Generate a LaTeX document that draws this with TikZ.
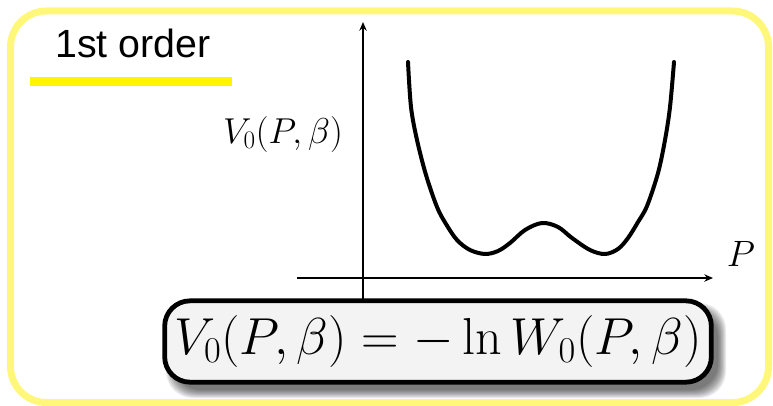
\RequirePackage{fix-cm}
\documentclass[tikz,border=0pt]{standalone}
\usepackage{fontspec}
\newfontfamily\helv{Liberation Sans}
\usetikzlibrary{arrows.meta}
\definecolor{framey}{HTML}{FFF77A}
\definecolor{bary}{HTML}{FFF500}
\definecolor{boxfill}{HTML}{F3F3F3}
\tikzset{
  frame/.style={draw=framey, line width=5.25pt, rounded corners=27pt},
  axis/.style={line width=1.1pt, -{Stealth[length=6.5pt,width=5.5pt]}},
  curve/.style={line width=3pt, line cap=round},
  eqbox/.style={draw=black, line width=3.6pt, fill=boxfill, rounded corners=19pt,
    minimum width=410pt, minimum height=61pt, inner sep=0pt},
  shade/.style={fill=black, opacity=0.08, rounded corners=20pt},
}
\begin{document}
\begin{tikzpicture}[x=0.75pt,y=-0.75pt]
\useasboundingbox (0,0) rectangle (773,406);
\draw[frame] (10.5,11) rectangle (768.5,402.5);
\fill[bary] (30,77) rectangle (232,86);
\node[font=\helv\fontsize{29.5}{31}\selectfont, anchor=base west, inner sep=0pt] (title) at (55,58) {1st order};
% axes
\coordinate (yb) at (363,299);
\coordinate (yt) at (363,22);
\coordinate (xl) at (297,278);
\coordinate (xr) at (713,278);
\draw[axis] (yb) -- (yt);
\draw[axis] (xl) -- (xr);
\node[font=\fontsize{27}{30}\selectfont, anchor=base, inner sep=0pt] (vlab) at (283,143) {$V_0(P,\beta)$};
\node[font=\fontsize{27.5}{30}\selectfont, anchor=base, inner sep=0pt] (plab) at (741,266) {$P$};
% potential curve
\draw[curve] plot[smooth, tension=0.55] coordinates {
 (408,62) (411,107) (417,140) (426,175) (437,207) (446,224) (457,240) (470,250)
 (485,254) (498,251) (510,243) (525,230) (542,223) (558,227) (572,238) (590,250)
 (605,254) (618,249) (628,238) (638,222) (647,206) (658,173) (665,140) (670,107) (674,62)};
% shadow
\foreach \i in {0,...,8} {
  \fill[shade] (163+3+\i,299+4+\i) rectangle (713+13-\i,384+14-\i);
}
\node[eqbox] (eq) at (438,341.5) {\fontsize{39}{41}\selectfont$V_0(P,\beta)=-\ln W_0(P,\beta)$};
\end{tikzpicture}
\end{document}
